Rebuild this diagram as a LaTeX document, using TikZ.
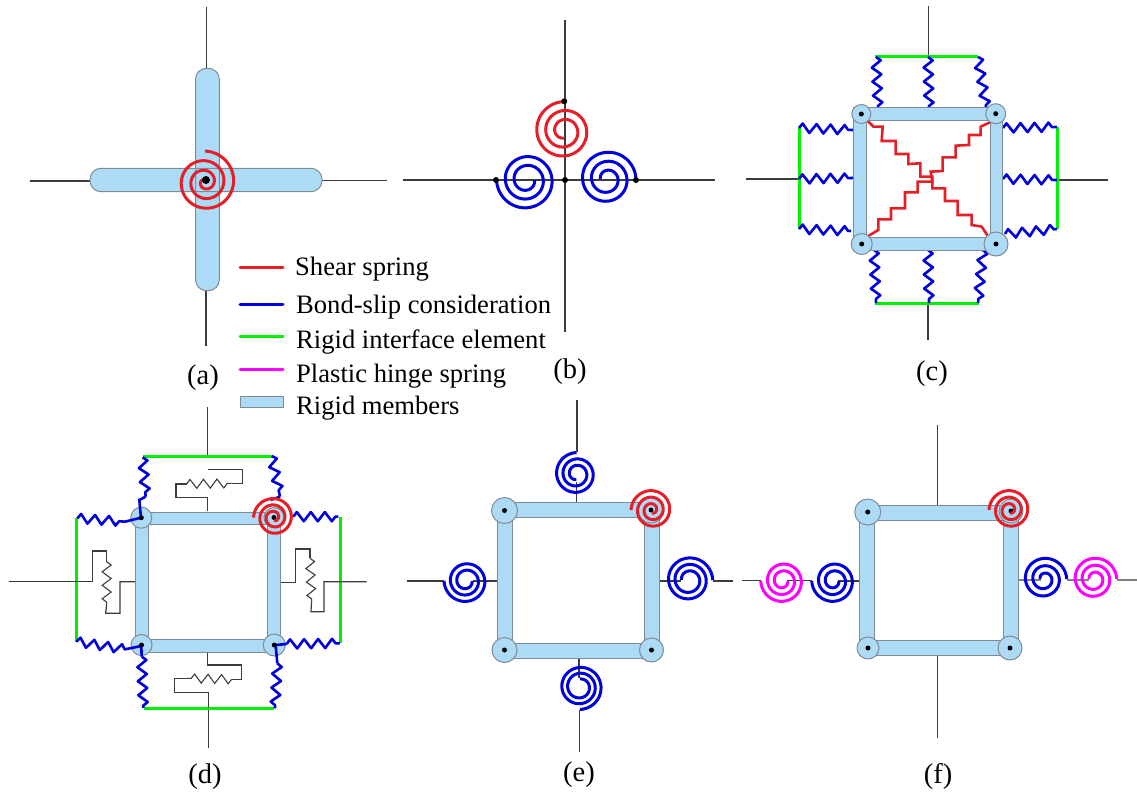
\documentclass[tikz,border=0pt]{standalone}
\usepackage{fontspec}
\setmainfont{Liberation Serif}
\usetikzlibrary{decorations.pathmorphing}
\definecolor{memblue}{RGB}{173,219,245}
\definecolor{memedge}{RGB}{125,140,150}
\definecolor{sred}{RGB}{230,30,40}
\definecolor{sblue}{RGB}{0,0,220}
\definecolor{sgreen}{RGB}{0,240,0}
\definecolor{smag}{RGB}{255,0,255}
\definecolor{wirec}{RGB}{60,60,60}
\tikzset{
  member/.style={line width=1pt,draw=memedge,double=memblue,double distance=#1,line join=miter},
  joint/.style={circle,fill=memblue,draw=memedge,line width=1pt,minimum size=#1,inner sep=0pt},
  pin/.style={circle,fill=black,minimum size=#1,inner sep=0pt},
  wire/.style={draw=wirec,line width=1.2pt},
  spiralline/.style={line width=3pt},
  rigid/.style={draw=sgreen,line width=3pt},
  legendline/.style={line width=3pt,line cap=round},
  bspring/.style={draw=sblue,line width=2.6pt,line join=round,decorate,decoration={zigzag,segment length=14pt,amplitude=4.6pt}},
  bline/.style={draw=sblue,line width=2.6pt},
  rstair/.style={draw=sred,line width=2.6pt,line join=miter},
  wspring/.style={draw=wirec,line width=1.1pt,decorate,decoration={zigzag,segment length=13.5pt,amplitude=4.5pt}},
  lab/.style={font=\fontsize{28.5}{31}\selectfont,anchor=base,inner sep=0pt},
  legtext/.style={font=\fontsize{26.6}{30}\selectfont,anchor=base west,inner sep=0pt},
}
% colour, cx, cy, start angle (y down), direction, outer r, inner r, turns
\newcommand\spir[8]{\draw[spiralline,#1] plot[smooth,domain=0:1,samples=100,variable=\t]
  ({#2+(#6+(#7-#6)*\t)*cos(#4+#5*360*#8*\t)},{#3+(#6+(#7-#6)*\t)*sin(#4+#5*360*#8*\t)});}
\begin{document}
\begin{tikzpicture}[x=1pt,y=-1pt]
\useasboundingbox (0,0) rectangle (1137,793);

% ---------- (a)
\coordinate (aT) at (206.7,7); \coordinate (aTb) at (206.7,68);
\coordinate (aB) at (206,346); \coordinate (aBb) at (206,291);
\coordinate (aL) at (30,181);  \coordinate (aLb) at (90,181);
\coordinate (aR) at (387,180.5); \coordinate (aRb) at (322,180.5);
\draw[wire] (aT)--(aTb) (aB)--(aBb) (aL)--(aLb) (aR)--(aRb);
\fill[memblue,rounded corners=11pt] (195.5,68.3) rectangle (219.3,290.7);
\fill[memblue,rounded corners=11pt] (90,168.3) rectangle (322,191.7);
\draw[memedge,line width=1pt,rounded corners=11pt] (195.5,68.3) rectangle (219.3,290.7);
\draw[memedge,line width=1pt,rounded corners=11pt] (90,168.3) rectangle (322,191.7);
\spir{sred}{205}{182}{270}{1}{31}{2}{3}
\node[pin=8pt] (aJ) at (206,180) {};
\node[lab] (capa) at (203,384) {(a)};

% ---------- legend
\draw[legendline,sred] (240,267)--(283,267);
\draw[legendline,sblue] (240,304.5)--(283,304.5);
\draw[legendline,sgreen] (240,336.5)--(283,336.5);
\draw[legendline,smag] (240,369.5)--(283,369.5);
\draw[fill=memblue,draw=memedge,line width=1pt] (240,396)rectangle(283,407);
\node[legtext] (l1) at (295,275) {Shear spring};
\node[legtext] (l2) at (296,313) {Bond-slip consideration};
\node[legtext] (l3) at (296,348) {Rigid interface element};
\node[legtext] (l4) at (296,382) {Plastic hinge spring};
\node[legtext] (l5) at (296,414) {Rigid members};

% ---------- (b)
\coordinate (bL) at (403,180); \coordinate (bR) at (715,180);
\coordinate (bT) at (565,20);  \coordinate (bB) at (565,332);
\draw[wire] (bL)--(bR) (bT)--(bB);
\spir{sred}{564}{131}{270}{-1}{29.5}{7}{2.5}
\spir{sblue}{526.5}{180}{180}{-1}{30}{8}{2.5}
\spir{sblue}{607}{179}{0}{-1}{29}{6.5}{2.5}
\node[pin=6pt] (b1) at (564.3,101.3) {};
\node[pin=6pt] (b2) at (496,180) {};
\node[pin=6pt] (b3) at (565,180) {};
\node[pin=6pt] (b4) at (636,180) {};
\node[lab] (capb) at (570,378) {(b)};

% ---------- (c)
\coordinate (cT) at (928.3,6); \coordinate (cTb) at (928.3,56);
\coordinate (cB) at (928,340); \coordinate (cBb) at (928,304);
\coordinate (cL) at (745.5,179); \coordinate (cLb) at (799,179);
\coordinate (cR) at (1108,180); \coordinate (cRb) at (1058,180);
\draw[wire] (cT)--(cTb) (cB)--(cBb) (cL)--(cLb) (cR)--(cRb);
\draw[rigid] (875,56)--(978,56) (875,303.7)--(978.5,303.7) (799.3,128)--(799.3,229) (1057.3,126.7)--(1057.3,229);
\draw[bspring] (876,57)--(878,107);
\draw[bspring] (928,57)--(929,107);
\draw[bspring] (978,57)--(986,107);
\draw[bspring] (874,250)--(876,303);
\draw[bspring] (928,250)--(929,303);
\draw[bspring] (983,250)--(978,303);
\draw[bspring] (799,128)--(853,130);
\draw[bspring] (799,179)--(853,178);
\draw[bspring] (799,229)--(851,231);
\draw[bspring] (1003,128)--(1057,127);
\draw[bspring] (1003,179)--(1057,180);
\draw[bspring] (1005,234)--(1057,229);
\begin{scope}[shift={(740,0)},x=0.3333pt,y=-0.3333pt]
\draw[rstair] (380,360)--(400,380)--(428,380)--(425,423)--(467,423)--(467,462)--(505,462)--(505,492)--(541,490)--(541,530)--(577,530)--(577,565)--(615,565)--(615,603)--(653,603)--(653,645)--(695,645)--(695,675)--(725,680)--(745,710);
\draw[rstair] (750,367)--(722,380)--(722,405)--(687,405)--(687,435)--(647,437)--(647,472)--(608,472)--(608,513)--(572,515)--(577,545)--(533,545)--(533,577)--(495,577)--(495,625)--(453,625)--(453,658)--(415,658)--(415,690)--(385,708);
\end{scope}
\coordinate (cA) at (860.2,114); \coordinate (cC) at (996.5,114);
\coordinate (cD) at (996.5,244); \coordinate (cE) at (860.2,244);
\draw[member=11.5pt] (cA)--(cC)--(cD)--(cE)--cycle;
\node[joint=19pt] (cJ1) at (861.3,114) {};
\node[joint=20pt] (cJ2) at (995.7,113.7) {};
\node[joint=21pt] (cJ3) at (861.7,244) {};
\node[joint=24pt] (cJ4) at (996,244) {};
\node[pin=5pt] at (cJ1) {}; \node[pin=5pt] at (cJ2) {}; \node[pin=5pt] at (cJ3) {}; \node[pin=5pt] at (cJ4) {};
\node[lab] (capc) at (932,380) {(c)};

% ---------- (d)
\coordinate (dT) at (207.7,407); \coordinate (dTb) at (207.7,456);
\coordinate (dB) at (208.7,748); \coordinate (dBb) at (208.7,708);
\draw[wire] (dT)--(dTb) (dB)--(dBb);
\draw[rigid] (143.3,456)--(271.7,456) (143.7,708)--(274,708) (76.3,518.3)--(76.3,641.7) (340,517.3)--(340,642.7);
\begin{scope}[shift={(0,400)},x=0.3333pt,y=-0.3333pt]
\draw[wire] (622,333)--(622,292)--(528,292)--(528,252)--(560,252);
\draw[wspring] (560,252)--(695,250);
\draw[wire] (695,250)--(727,250)--(727,208)--(625,208);
\draw[wire] (622,758)--(622,795)--(724,795)--(724,838)--(695,838);
\draw[wspring] (695,838)--(560,835);
\draw[wire] (560,835)--(524,835)--(524,878)--(626,878)--(626,924);
\draw[wire] (27,545)--(277,545)--(277,453)--(320,453)--(320,485);
\draw[wspring] (320,485)--(320,612);
\draw[wire] (320,612)--(317,640)--(360,640)--(360,545)--(408,545);
\draw[wire] (843,547)--(887,547)--(887,447)--(930,447)--(930,475);
\draw[wspring] (930,475)--(935,605);
\draw[wire] (935,605)--(933,635)--(972,635)--(972,545)--(1100,545);
\end{scope}
\coordinate (dA) at (142,518.3); \coordinate (dC) at (274.2,518.3);
\coordinate (dD) at (274.2,646); \coordinate (dE) at (142,646);
\draw[member=11.5pt] (dA)--(dC)--(dD)--(dE)--cycle;
\node[joint=21pt] (dJ1) at (141.3,517.7) {};
\node[joint=20pt] (dJ2) at (274,517.5) {};
\node[joint=21pt] (dJ3) at (141.5,645) {};
\node[joint=22pt] (dJ4) at (274.3,645) {};
\begin{scope}[shift={(0,400)},x=0.3333pt,y=-0.3333pt]
\draw[bspring] (428,172)--(437,290);
\draw[bline] (437,290)--(418,300)--(423,353);
\draw[bspring] (815,168)--(840,290);
\draw[bline] (840,290)--(812,300);
\draw[bspring] (232,355)--(375,365);
\draw[bline] (375,365)--(424,353);
\draw[bspring] (880,350)--(1015,350);
\draw[bspring] (229,725)--(375,748);
\draw[bline] (375,748)--(424,738);
\draw[bline] (827,735)--(860,732);
\draw[bspring] (860,732)--(1020,730);
\draw[bline] (424,738)--(425,770);
\draw[bspring] (425,770)--(430,924);
\draw[bline] (827,735)--(832,790);
\draw[bspring] (832,790)--(825,925);
\end{scope}
\node[pin=5pt] at (dJ1) {}; \node[pin=5pt] at (dJ2) {}; \node[pin=5pt] at (dJ3) {}; \node[pin=5pt] at (dJ4) {};
\spir{sred}{274}{517.5}{180}{1}{20.5}{3}{2.75}
\node[lab] (capd) at (205,783) {(d)};

% ---------- (e)
\coordinate (eT) at (577,400); \coordinate (eTb) at (577,452);
\coordinate (eTi) at (576.5,482); \coordinate (eTc) at (576.5,503);
\coordinate (eB) at (579.5,752); \coordinate (eBb) at (579.5,710);
\coordinate (eBi) at (579,678); \coordinate (eBc) at (579,658);
\coordinate (eL) at (407,581); \coordinate (eLb) at (444,581);
\coordinate (eLi) at (473,581); \coordinate (eLc) at (497,581);
\coordinate (eR) at (733,581); \coordinate (eRb) at (713,581);
\coordinate (eRi) at (681,581); \coordinate (eRc) at (659,581);
\draw[wire] (eT)--(eTb) (eTi)--(eTc) (eB)--(eBb) (eBi)--(eBc) (eL)--(eLb) (eLi)--(eLc) (eR)--(eRb) (eRi)--(eRc);
\coordinate (eA) at (505,510); \coordinate (eC) at (651.5,510);
\coordinate (eD) at (651.5,651); \coordinate (eE) at (505,651);
\draw[member=14pt] (eA)--(eC)--(eD)--(eE)--cycle;
\node[joint=26pt] (eJ1) at (504.5,510.5) {};
\node[joint=26pt] (eJ2) at (651,510) {};
\node[joint=25pt] (eJ3) at (504.5,650) {};
\node[joint=24pt] (eJ4) at (651.5,650) {};
\node[pin=5pt] at (eJ1) {}; \node[pin=5pt] at (eJ2) {}; \node[pin=5pt] at (eJ3) {}; \node[pin=5pt] at (eJ4) {};
\spir{sblue}{576.5}{474}{270}{-1}{21.5}{5.5}{2.5}
\spir{sblue}{466}{581}{180}{-1}{22}{6}{2.5}
\spir{sblue}{689}{580}{0}{-1}{23.7}{7.5}{2.5}
\spir{sblue}{580}{687}{90}{-1}{22.5}{8}{2.5}
\spir{sred}{652}{510}{180}{1}{21}{3}{2.75}
\node[lab] (cape) at (579,781) {(e)};

% ---------- (f)
\coordinate (fT) at (937.5,425); \coordinate (fTb) at (937.5,505);
\coordinate (fB) at (937.5,738); \coordinate (fBb) at (937.5,656);
\coordinate (fL1) at (742,580.5); \coordinate (fL2) at (761,580.5);
\coordinate (fL3) at (787,580.5); \coordinate (fL4) at (812,580.5);
\coordinate (fL5) at (838,581); \coordinate (fL6) at (860,581);
\draw[wire] (fT)--(fTb) (fB)--(fBb) (fL1)--(fL2) (fL3)--(fL4) (fL5)--(fL6);
\coordinate (fR1) at (1018.7,580); \coordinate (fR2) at (1041,580);
\coordinate (fR3) at (1066.7,580); \coordinate (fR4) at (1089,580);
\coordinate (fR5) at (1116.7,580); \coordinate (fR6) at (1137,580);
\draw[wire,draw=gray] (fR1)--(fR2) (fR3)--(fR4) (fR5)--(fR6);
\coordinate (fA) at (867.3,512.5); \coordinate (fC) at (1010.8,512.5);
\coordinate (fD) at (1010.8,648); \coordinate (fE) at (867.3,648);
\draw[member=14pt] (fA)--(fC)--(fD)--(fE)--cycle;
\node[joint=26pt] (fJ1) at (867.7,512) {};
\node[joint=24pt] (fJ2) at (1011,511) {};
\node[joint=22pt] (fJ3) at (868,648) {};
\node[joint=24pt] (fJ4) at (1010,648) {};
\node[pin=5pt] at (fJ1) {}; \node[pin=5pt] at (fJ2) {}; \node[pin=5pt] at (fJ3) {}; \node[pin=5pt] at (fJ4) {};
\spir{smag}{782.7}{581}{180}{-1}{22}{5}{2.5}
\spir{sblue}{833.7}{581}{180}{-1}{22}{5}{2.5}
\spir{sblue}{1044.2}{579}{0}{-1}{22.5}{4}{2.5}
\spir{smag}{1094.2}{579}{0}{-1}{22.5}{5}{2.5}
\spir{sred}{1010}{510}{180}{1}{21}{3}{2.75}
\node[lab] (capf) at (938,783) {(f)};
\end{tikzpicture}
\end{document}
